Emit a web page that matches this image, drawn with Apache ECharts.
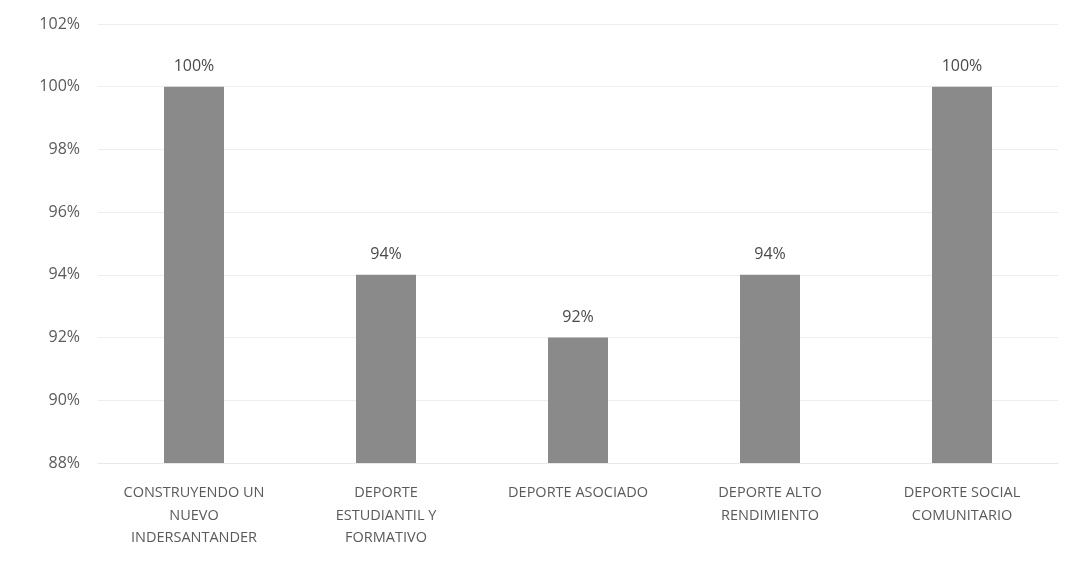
<!DOCTYPE html>
<html><head><meta charset="utf-8">
<script src="https://cdn.jsdelivr.net/npm/echarts@6/dist/echarts.min.js"></script>
<style>html,body{margin:0;padding:0;background:#fff}#c{width:1069px;height:561px}</style>
</head><body><div id="c"></div>
<script>
const categories = ['CONSTRUYENDO UN\nNUEVO\nINDERSANTANDER','DEPORTE\nESTUDIANTIL Y\nFORMATIVO','DEPORTE ASOCIADO','DEPORTE ALTO\nRENDIMIENTO','DEPORTE SOCIAL\nCOMUNITARIO'];
const values = [100, 94, 92, 94, 100];
const yMin = 88, yMax = 102, yStep = 2;
const chart = echarts.init(document.getElementById('c'));
chart.setOption({
  animation:false,
  grid:{left:98,right:11,top:24,bottom:98},
  xAxis:{type:'category',data:categories,
    axisLine:{show:true,lineStyle:{color:'#e8e8e8'}},axisTick:{show:false},
    axisLabel:{color:'#5a5a5a',fontFamily:'Open Sans',fontSize:14.5,lineHeight:22.5,margin:19,interval:0}},
  yAxis:{type:'value',min:yMin,max:yMax,interval:yStep,
    axisLine:{show:false},axisTick:{show:false},
    splitLine:{lineStyle:{color:'#eeeeee'}},
    axisLabel:{color:'#5a5a5a',fontFamily:'Open Sans',fontSize:16,margin:18,formatter:v=>v+'%'}},
  series:[{type:'bar',data:values,barWidth:60,
    itemStyle:{color:'#8a8a8a'},
    label:{show:true,position:'top',distance:12,color:'#4a4a4a',fontFamily:'Open Sans',fontSize:16,formatter:p=>p.value+'%'}}]
});
</script></body></html>
